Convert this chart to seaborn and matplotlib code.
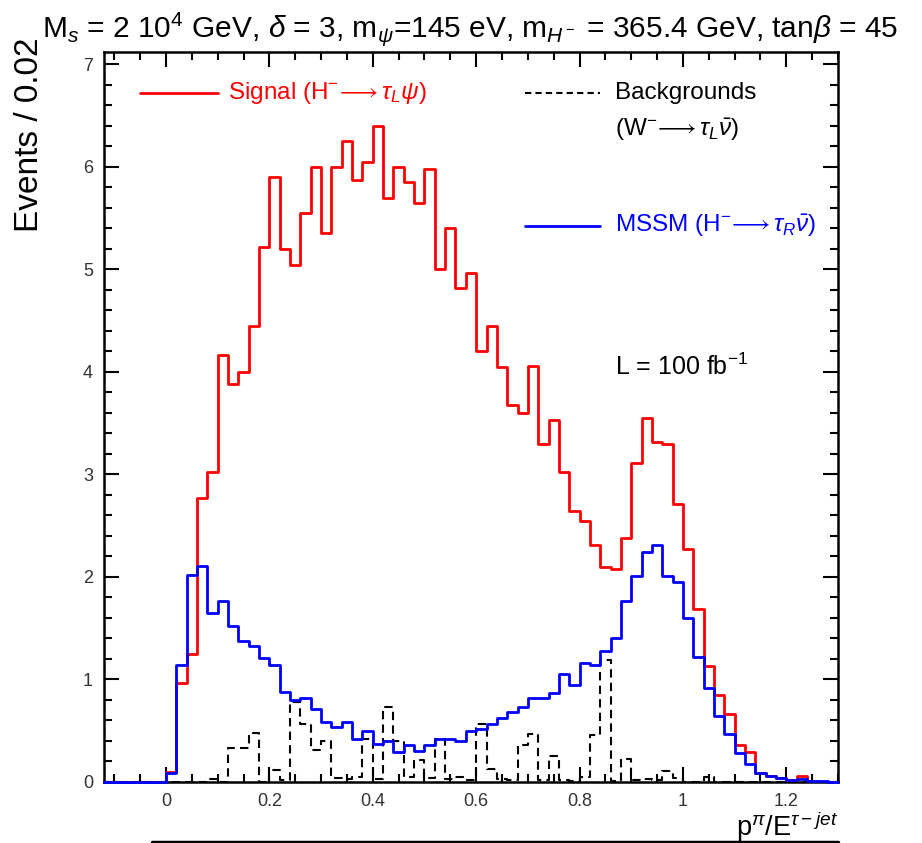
import numpy as np
import pandas as pd
import matplotlib
matplotlib.use("Agg")
import matplotlib.pyplot as plt
import seaborn as sns
from matplotlib.lines import Line2D
from matplotlib.ticker import MultipleLocator, FixedLocator

# ---------------- data (events per 0.02 bin, bins starting at 0.00) -------------
bin_width = 0.02
bin_start = 0.00

signal = [0.10, 0.97, 1.25, 2.77, 3.02, 4.16, 3.88, 4.00, 4.45, 5.22,
          5.90, 5.20, 5.04, 5.55, 6.00, 5.35, 6.00, 6.25, 5.87, 6.05,
          6.40, 5.70, 6.00, 5.85, 5.65, 5.98, 5.00, 5.40, 4.82, 4.96,
          4.20, 4.45, 4.05, 3.68, 3.60, 4.06, 3.30, 3.53, 3.02, 2.64,
          2.55, 2.31, 2.10, 2.08, 2.38, 3.11, 3.55, 3.32, 3.30, 2.71,
          2.27, 1.69, 1.13, 0.85, 0.66, 0.36, 0.29, 0.09, 0.06, 0.04,
          0.02, 0.06, 0.01, 0.00, 0.00]

mssm = [0.09, 1.14, 2.02, 2.11, 1.65, 1.77, 1.52, 1.38, 1.33, 1.21,
        1.14, 0.88, 0.80, 0.82, 0.71, 0.59, 0.54, 0.59, 0.42, 0.50,
        0.37, 0.40, 0.29, 0.36, 0.30, 0.36, 0.42, 0.42, 0.40, 0.50,
        0.52, 0.57, 0.62, 0.68, 0.73, 0.82, 0.82, 0.87, 1.05, 0.95,
        1.16, 1.14, 1.28, 1.40, 1.77, 2.01, 2.24, 2.31, 2.01, 1.95,
        1.60, 1.22, 0.92, 0.64, 0.47, 0.28, 0.18, 0.09, 0.06, 0.04,
        0.02, 0.03, 0.01, 0.005, 0.00]

background = [0.00, 0.00, 0.00, 0.00, 0.03, 0.00, 0.33, 0.33, 0.48, 0.00,
              0.12, 0.02, 0.78, 0.57, 0.31, 0.40, 0.04, 0.03, 0.05, 0.42,
              0.03, 0.73, 0.40, 0.05, 0.21, 0.04, 0.42, 0.03, 0.05, 0.02,
              0.57, 0.13, 0.03, 0.02, 0.36, 0.47, 0.02, 0.25, 0.02, 0.01,
              0.05, 0.46, 1.19, 0.01, 0.22, 0.02, 0.03, 0.02, 0.11, 0.04,
              0.00, 0.00, 0.05, 0.00, 0.00, 0.00, 0.00, 0.00, 0.00, 0.00,
              0.00, 0.00, 0.00, 0.00, 0.00]

x_range = (-0.12, 1.30)
y_range = (0.0, 7.12)
x_ticks = [0, 0.2, 0.4, 0.6, 0.8, 1.0, 1.2]
x_ticklabels = ["0", "0.2", "0.4", "0.6", "0.8", "1", "1.2"]
y_ticks = [0, 1, 2, 3, 4, 5, 6, 7]

title = (r"M$_s$ = 2 10$^4$ GeV, $\delta$ = 3, m$_\psi$=145 eV, "
         r"m$_{H^-}$ = 365.4 GeV, tan$\beta$ = 45")

# ---------------- build table ------------------------------------------------------
n = len(signal)
centers = np.round(bin_start + bin_width * (np.arange(n) + 0.5), 3)
df = pd.DataFrame({"x": centers, "signal": signal, "mssm": mssm,
                   "background": background})
edges = [round(float(e), 3) for e in np.arange(x_range[0], x_range[1] + 1e-9, bin_width)]

# ---------------- style ------------------------------------------------------------
sns.set_theme(style="white")
plt.rcParams["font.family"] = ["Liberation Sans", "DejaVu Sans"]
plt.rcParams["mathtext.fontset"] = "custom"
plt.rcParams["mathtext.rm"] = "Liberation Sans"
plt.rcParams["mathtext.it"] = "Liberation Sans:italic"
plt.rcParams["mathtext.bf"] = "Liberation Sans:bold"

fig = plt.figure(figsize=(9.22, 8.43), dpi=100)
ax = fig.add_axes([104 / 922, 61 / 843, (838 - 104) / 922, (782 - 52) / 843])

sns.histplot(data=df, x="x", weights="signal", bins=edges, element="step",
             fill=False, color="#ff0000", linewidth=2.0, zorder=3, ax=ax)
sns.histplot(data=df, x="x", weights="background", bins=edges, element="step",
             fill=False, color="black", linewidth=1.5, linestyle=(0, (4, 2.5)),
             zorder=2, ax=ax)
sns.histplot(data=df, x="x", weights="mssm", bins=edges, element="step",
             fill=False, color="#0000ff", linewidth=2.0, zorder=3.2,
             clip_on=False, ax=ax)

ax.set_xlim(*x_range)
ax.set_ylim(*y_range)
ax.set_xlabel("")
ax.set_ylabel("")

for sp in ax.spines.values():
    sp.set_linewidth(1.8)
    sp.set_color("black")

ax.xaxis.set_major_locator(FixedLocator(x_ticks))
ax.set_xticklabels(x_ticklabels)
ax.xaxis.set_minor_locator(MultipleLocator(0.05))
ax.yaxis.set_major_locator(FixedLocator(y_ticks))
ax.yaxis.set_minor_locator(MultipleLocator(0.2))
ax.tick_params(which="both", direction="in", top=True, right=True,
               bottom=True, left=True, width=1.5, color="black")
ax.tick_params(which="major", length=11, labelsize=13, labelcolor="#333333")
ax.tick_params(which="minor", length=6)
ax.tick_params(axis="x", which="major", pad=8)
ax.tick_params(axis="y", which="major", pad=8)

# title and axis labels
fig.text(470 / 922, 1 - 29 / 843, title, ha="center", va="center",
         fontsize=21.5, color="black")
fig.text(30 / 922, 1 - 38 / 843, "Events / 0.02", rotation=90, ha="center",
         va="top", fontsize=24, color="black")
fig.text(838 / 922, 1 - 827 / 843, r"p$^{\pi}$/E$^{\tau-jet}$", ha="right",
         va="center", fontsize=19.5, color="black")

# legend-like annotations (axes fraction coordinates)
def axfrac(px, py):
    return ((px - 104) / (838 - 104), (782 - py) / (782 - 52))

for (x0, x1, y, col, ls, lw) in [(140, 218, 93, "#ff0000", "-", 2.0),
                                 (525, 600, 93, "black", (0, (3, 2)), 1.5),
                                 (525, 600, 226, "#0000ff", "-", 2.0)]:
    a = axfrac(x0, y)
    b = axfrac(x1, y)
    ax.add_line(Line2D([a[0], b[0]], [a[1], b[1]], transform=ax.transAxes,
                       color=col, linestyle=ls, linewidth=lw))

fs = 17.5
tx, ty = axfrac(228, 93)
ax.text(tx, ty, r"Signal (H$^{-}\!\longrightarrow\tau_L\psi$)", transform=ax.transAxes,
        color="#ff0000", fontsize=fs, va="center", ha="left")
tx, ty = axfrac(615, 93)
ax.text(tx, ty, "Backgrounds", transform=ax.transAxes, color="black",
        fontsize=fs, va="center", ha="left")
tx, ty = axfrac(615, 130)
ax.text(tx, ty, r"(W$^{-}\!\longrightarrow\tau_L\bar{\nu}$)", transform=ax.transAxes,
        color="black", fontsize=fs, va="center", ha="left")
tx, ty = axfrac(615, 226)
ax.text(tx, ty, r"MSSM (H$^{-}\!\longrightarrow\tau_R\bar{\nu}$)", transform=ax.transAxes,
        color="#0000ff", fontsize=fs, va="center", ha="left")
tx, ty = axfrac(615, 367)
ax.text(tx, ty, r"L = 100 fb$^{-1}$", transform=ax.transAxes, color="black",
        fontsize=18, va="center", ha="left")

# bottom rule
fig.add_artist(Line2D([152 / 922, 838 / 922], [1.5 / 843, 1.5 / 843],
                      transform=fig.transFigure, color="black", linewidth=2.5))

fig.savefig("out.png", dpi=100)
